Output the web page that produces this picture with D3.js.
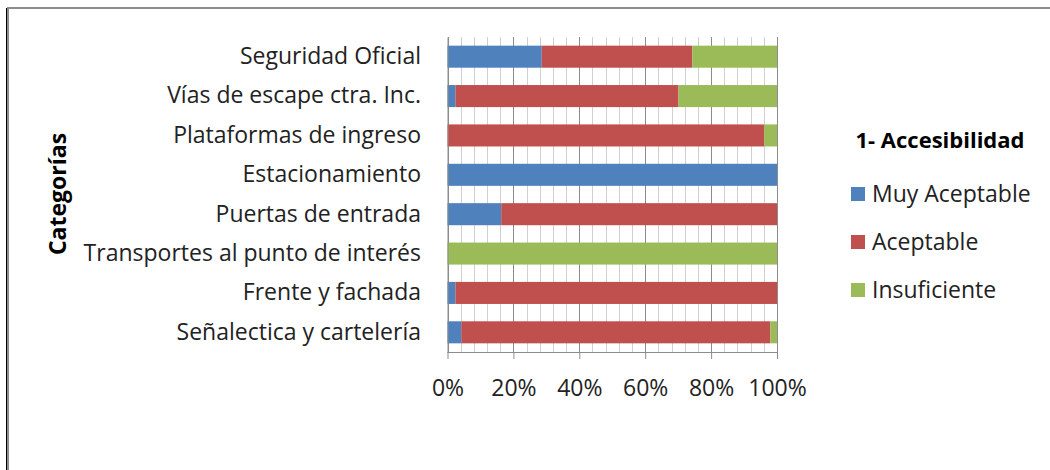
<!DOCTYPE html>
<html><head><meta charset="utf-8">
<script src="https://cdn.jsdelivr.net/npm/d3@7"></script>
<style>body{margin:0;background:#fff;} svg{display:block;}</style>
</head><body>
<svg id="chart" width="1050" height="470"></svg>
<script>
const categories = ["Seguridad Oficial","Vías de escape ctra. Inc.","Plataformas de ingreso","Estacionamiento","Puertas de entrada","Transportes al punto de interés","Frente y fachada","Señalectica y cartelería"];
const seriesNames = ["Muy Aceptable","Aceptable","Insuficiente"];
const muyAceptable = [28.6, 2.4, 0, 100, 16.3, 0, 2.4, 4.2];
const aceptable    = [45.7, 67.7, 96.1, 0, 83.7, 0, 97.6, 93.8];
const insuficiente = [25.7, 29.9, 3.9, 0, 0, 100, 0, 2.0];
const colors = ["#4F81BD","#C0504D","#9BBB59"];
const tickValues = [0, 0.2, 0.4, 0.6, 0.8, 1.0];
const legendTitle = "1- Accesibilidad";
const axisTitle = "Categorías";

const font = "'Open Sans', sans-serif";
const svg = d3.select("#chart");

// frame
svg.append("rect").attr("x",8).attr("y",8).attr("width",1060).attr("height",480)
  .attr("fill","none").attr("stroke","#8c8c8c").attr("stroke-width",2);
svg.append("line").attr("x1",6.5).attr("x2",6.5).attr("y1",8).attr("y2",470)
  .attr("stroke","#000").attr("stroke-width",1);

const x0 = 447.5, x1 = 777, yTop = 37, yBot = 352;
const x = d3.scaleLinear().domain([0,1]).range([x0,x1]);
const y = d3.scaleBand().domain(categories).range([yTop,yBot]).paddingInner(0.44).paddingOuter(0.22);

// gridlines
const minor = d3.range(0, 1.0001, 0.04);
svg.append("g").selectAll("line").data(minor).join("line")
  .attr("x1",d=>Math.round(x(d))+0.5).attr("x2",d=>Math.round(x(d))+0.5)
  .attr("y1",yTop).attr("y2",yBot)
  .attr("stroke",d=>Math.abs(d*5-Math.round(d*5))<1e-6 ? "#8c8c8c" : "#d0d0d0")
  .attr("stroke-width",1);

// bars
const rows = categories.map((c,i)=>({cat:c, vals:[muyAceptable[i],aceptable[i],insuficiente[i]]}));
const stackData = rows.map(r=>{const tot=d3.sum(r.vals); const o={cat:r.cat}; seriesNames.forEach((s,j)=>o[s]=r.vals[j]/tot); return o;});
const stacked = d3.stack().keys(seriesNames)(stackData);
svg.append("g").selectAll("g").data(stacked).join("g").attr("fill",(d,i)=>colors[i])
  .selectAll("rect").data(d=>d).join("rect")
  .attr("x",d=>x(d[0])).attr("width",d=>x(d[1])-x(d[0]))
  .attr("y",d=>y(d.data.cat)).attr("height",y.bandwidth());

// x axis
const xAxis = d3.axisBottom(x).tickValues(tickValues).tickFormat(d3.format(".0%")).tickSize(7).tickPadding(21);
const gx = svg.append("g").attr("transform",`translate(0,${yBot})`).call(xAxis);
gx.select(".domain").attr("stroke","#8c8c8c").attr("d",`M${x0},0.5H${x1}`);
gx.selectAll(".tick line").attr("stroke","#8c8c8c");
gx.selectAll("text").attr("font-family",font).attr("font-size",23).attr("fill","#222");

// y axis
const yAxis = d3.axisLeft(y).tickSize(0).tickPadding(26.5);
const gy = svg.append("g").attr("transform",`translate(${x0},0)`).call(yAxis);
gy.select(".domain").attr("stroke","#8c8c8c");
gy.selectAll("text").attr("font-family",font).attr("font-size",23).attr("fill","#222");

// axis title
svg.append("text").attr("transform","translate(66,194) rotate(-90)")
  .attr("text-anchor","middle").attr("font-family",font).attr("font-weight","bold")
  .attr("font-size",23).attr("fill","#000").text(axisTitle);

// legend
svg.append("text").attr("x",940).attr("y",148).attr("text-anchor","middle")
  .attr("font-family",font).attr("font-weight","bold").attr("font-size",22).attr("fill","#000").text(legendTitle);
const lg = svg.append("g").selectAll("g").data(seriesNames).join("g")
  .attr("transform",(d,i)=>`translate(851,${187+i*48})`);
lg.append("rect").attr("width",14).attr("height",14).attr("fill",(d,i)=>colors[i]);
lg.append("text").attr("x",21).attr("y",7).attr("dy","0.35em").attr("font-family",font)
  .attr("font-size",23).attr("fill","#222").text(d=>d);
</script>
</body></html>
